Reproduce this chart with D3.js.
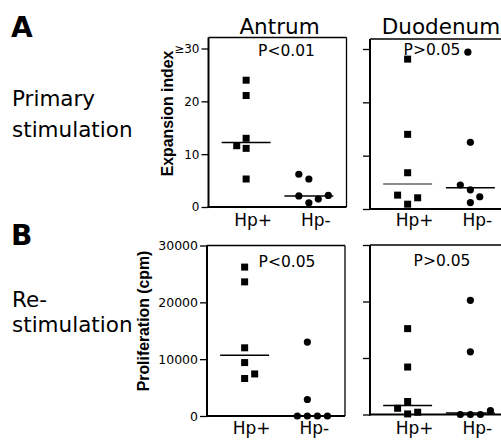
<!DOCTYPE html>
<html><head><meta charset="utf-8">
<script src="https://cdn.jsdelivr.net/npm/d3@7"></script>
<style>
html,body{margin:0;padding:0;background:#fff;}
svg{display:block;}
text{font-family:"DejaVu Sans",sans-serif;fill:#000;}
</style></head>
<body>
<svg id="chart" width="501" height="440"></svg>
<script>
// ---------- data ----------
const categories = ["Hp+", "Hp-"];
const panelTitles = ["Antrum", "Duodenum"];
const rowLetters = ["A", "B"];
const rowLabels = [["Primary", "stimulation"], ["Re-", "stimulation"]];
const yTitles = ["Expansion index", "Proliferation (cpm)"];
const pValues = [["P<0.01", "P>0.05"], ["P<0.05", "P>0.05"]];
const yTicksA = [0, 10, 20, 30];
const yTickLabelsA = ["0", "10", "20", "≥30"];
const yTicksB = [0, 10000, 20000, 30000];
const yTickLabelsB = ["0", "10000", "20000", "30000"];

// Primary stimulation, antrum
const aAntHpPos = [24.0, 21.1, 13.0, 11.6, 11.1, 5.3];
const aAntHpPosJit = [0, 0, 0, -0.15, 0, 0];
const aAntHpNeg = [6.2, 5.3, 2.1, 0.8, 1.5, 2.2];
const aAntHpNegJit = [-0.16, 0, -0.16, 0, 0.15, 0.31];
const aAntMedian = [12.2, 2.1];
// Primary stimulation, duodenum
const aDuoHpPos = [28.1, 14.0, 6.8, 2.6, 2.1, 0.9];
const aDuoHpPosJit = [0, 0, 0, -0.16, 0.16, 0];
const aDuoHpNeg = [29.4, 12.5, 4.5, 3.6, 2.3, 1.2];
const aDuoHpNegJit = [-0.04, 0, -0.16, 0, 0.15, 0];
const aDuoMedian = [4.7, 4.0];
// Re-stimulation, antrum
const bAntHpPos = [26200, 23600, 12000, 9400, 7400, 6600];
const bAntHpPosJit = [0, 0, 0, 0, 0.16, 0];
const bAntHpNeg = [13000, 2900, 0, 0, 0, 0];
const bAntHpNegJit = [0, 0, -0.16, 0, 0.16, 0.32];
const bAntMedian = [10700, 0];
// Re-stimulation, duodenum
const bDuoHpPos = [15200, 8400, 2300, 1100, 400, 100];
const bDuoHpPosJit = [0, 0, 0, -0.16, 0.16, 0];
const bDuoHpNeg = [20200, 11100, 0, 0, 0, 700];
const bDuoHpNegJit = [0, 0, -0.16, 0, 0.16, 0.32];
const bDuoMedian = [1600, 250];

// ---------- layout ----------
const svg = d3.select("#chart");
const panelW = 138;
const panels = [
  {row:0, col:0, left:208.5, top:37.5, y0:207, yMax:48.5, ymax:30, ticks:yTicksA, labels:yTickLabelsA,
   pos:aAntHpPos, posJ:aAntHpPosJit, neg:aAntHpNeg, negJ:aAntHpNegJit, med:aAntMedian, medColor:["#000","#000"], px:78, py:56, labY:225.5},
  {row:0, col:1, left:370, top:39, y0:209, yMax:49, ymax:30, ticks:yTicksA, labels:null,
   pos:aDuoHpPos, posJ:aDuoHpPosJit, neg:aDuoHpNeg, negJ:aDuoHpNegJit, med:aDuoMedian, medColor:["#666","#000"], px:62, py:55, labY:225.5},
  {row:1, col:0, left:207, top:245.5, y0:416, yMax:245.5, ymax:30000, ticks:yTicksB, labels:yTickLabelsB,
   pos:bAntHpPos, posJ:bAntHpPosJit, neg:bAntHpNeg, negJ:bAntHpNegJit, med:bAntMedian, medColor:["#000","#000"], px:80, py:266.5, labY:433.5},
  {row:1, col:1, left:370, top:245, y0:414.5, yMax:245, ymax:30000, ticks:yTicksB, labels:null,
   pos:bDuoHpPos, posJ:bDuoHpPosJit, neg:bDuoHpNeg, negJ:bDuoHpNegJit, med:bDuoMedian, medColor:["#000","#000"], px:72, py:265.5, labY:433.5}
];

panels.forEach(p => {
  const x = d3.scaleLinear().domain([0.4, 2.6]).range([p.left, p.left + panelW]);
  const y = d3.scaleLinear().domain([0, p.ymax]).range([p.y0, p.yMax]);
  const g = svg.append("g");

  // box top / right
  g.append("line").attr("x1", p.left).attr("x2", p.left + panelW).attr("y1", p.top).attr("y2", p.top)
    .attr("stroke", "#000").attr("stroke-width", 1.3);
  g.append("line").attr("x1", p.left + panelW).attr("x2", p.left + panelW).attr("y1", p.top).attr("y2", p.y0)
    .attr("stroke", "#000").attr("stroke-width", 1.3);

  // y axis
  const ax = d3.axisLeft(y).tickValues(p.ticks).tickSize(7).tickPadding(2)
    .tickFormat((d, i) => p.labels ? p.labels[i] : "");
  const ag = g.append("g").attr("transform", `translate(${p.left},0)`).call(ax);
  ag.select(".domain").remove();
  ag.selectAll(".tick line").attr("stroke", "#000").attr("stroke-width", 1.3);
  ag.selectAll(".tick text").style("font-family", '"DejaVu Sans",sans-serif')
    .style("font-size", p.row === 0 ? "12px" : "12.5px").attr("fill", "#000");

  // axis lines (left, bottom)
  g.append("line").attr("x1", p.left).attr("x2", p.left).attr("y1", p.top).attr("y2", p.y0 + 1)
    .attr("stroke", "#000").attr("stroke-width", 2);
  g.append("line").attr("x1", p.left - 1).attr("x2", p.left + panelW).attr("y1", p.y0).attr("y2", p.y0)
    .attr("stroke", "#000").attr("stroke-width", 2);

  // medians
  p.med.forEach((m, i) => {
    g.append("line").attr("x1", x(i + 1 - 0.39)).attr("x2", x(i + 1 + 0.39))
      .attr("y1", y(m)).attr("y2", y(m)).attr("stroke", p.medColor[i]).attr("stroke-width", 1.5);
  });

  // squares Hp+
  g.selectAll("rect.pt").data(p.pos).join("rect").attr("class", "pt")
    .attr("x", (d, i) => x(1 + p.posJ[i]) - 3.5).attr("y", d => y(d) - 3.5)
    .attr("width", 7).attr("height", 7).attr("fill", "#000");
  // circles Hp-
  g.selectAll("circle.pt").data(p.neg).join("circle").attr("class", "pt")
    .attr("cx", (d, i) => x(2 + p.negJ[i])).attr("cy", d => y(d)).attr("r", 3.6).attr("fill", "#000");

  // category labels
  categories.forEach((c, i) => {
    g.append("text").attr("x", x(i + 1) + 7).attr("y", p.labY).attr("text-anchor", "middle")
      .style("font-size", "17px").text(c);
  });

  // p-value
  g.append("text").attr("x", p.left + p.px).attr("y", p.py).attr("text-anchor", "middle")
    .style("font-size", "15.5px").text(pValues[p.row][p.col]);

  // panel title (top row only)
  if (p.row === 0) {
    g.append("text").attr("x", p.left + 71).attr("y", 33.5).attr("text-anchor", "middle")
      .style("font-size", "21.5px").text(panelTitles[p.col]);
  }
});

// row letters and labels
const letterY = [37, 245];
const labelY = [[106, 136.5], [307, 331.5]];
rowLetters.forEach((L, r) => {
  svg.append("text").attr("x", 11).attr("y", letterY[r]).style("font-size", "28px")
    .style("font-weight", "bold").text(L);
  rowLabels[r].forEach((t, k) => {
    svg.append("text").attr("x", 12).attr("y", labelY[r][k]).style("font-size", "21.5px").text(t);
  });
});

// rotated y titles
const yTitlePos = [[173, 113.5], [149, 321]];
yTitles.forEach((t, r) => {
  svg.append("text").attr("transform", `translate(${yTitlePos[r][0]},${yTitlePos[r][1]}) rotate(-90)`)
    .attr("text-anchor", "middle").style("font-family", '"Liberation Sans",Arial,sans-serif')
    .style("font-weight", "bold").style("font-size", "15.8px").text(t);
});
</script>
</body></html>
